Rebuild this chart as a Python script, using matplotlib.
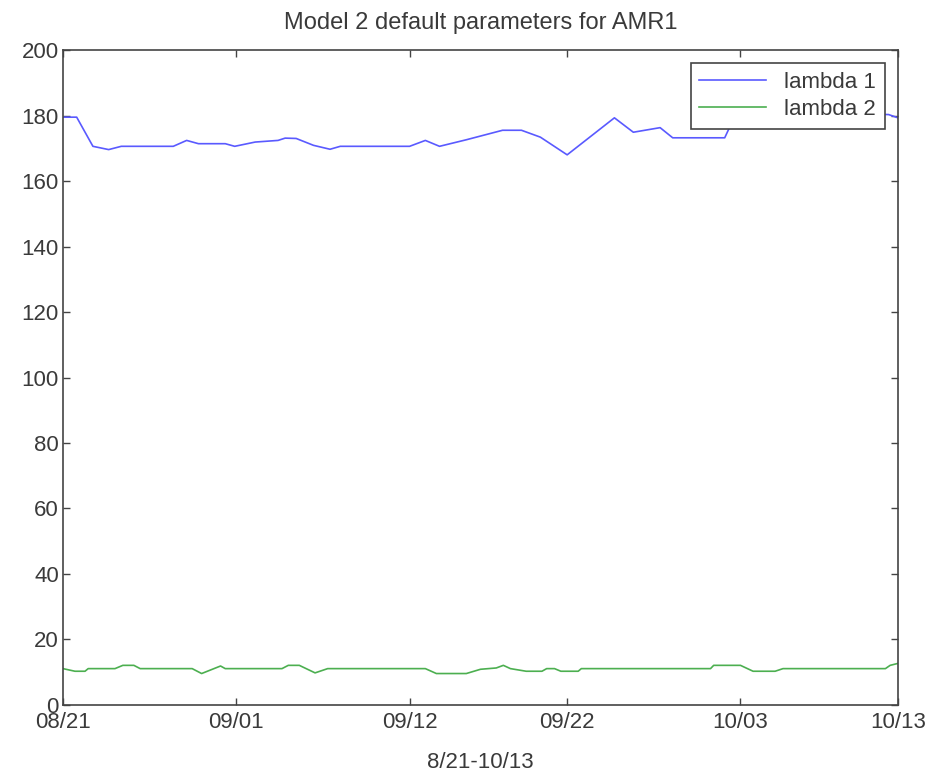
import matplotlib
matplotlib.use("Agg")
import matplotlib.pyplot as plt

# days since 08/21 and values
lam1_days = [0, 0.87, 1.9, 2.9, 3.7, 7.0, 7.85, 8.6, 10.3, 10.9, 12.2, 13.65, 14.1,
             14.8, 15.9, 16.95, 17.6, 22.0, 23.0, 23.9, 25.6, 27.9, 29.1, 30.3, 32.0,
             35.0, 36.2, 37.9, 38.7, 42.0, 42.3, 43.5, 47.0, 50.0, 52.4, 53.0]
lam1_vals = [179.5, 179.5, 170.6, 169.6, 170.6, 170.6, 172.4, 171.4, 171.4, 170.6,
             171.9, 172.4, 173.1, 173.0, 170.9, 169.7, 170.6, 170.6, 172.4, 170.6,
             172.6, 175.5, 175.5, 173.4, 168.0, 179.3, 174.9, 176.3, 173.2, 173.2,
             176.3, 180.0, 180.5, 180.5, 180.3, 179.3]

lam2_days = [0, 0.76, 1.4, 1.6, 3.3, 3.8, 4.5, 4.9, 8.2, 8.8, 10.0, 10.3, 13.9, 14.3,
             15.0, 16.0, 16.8, 23.0, 23.7, 25.6, 26.5, 27.5, 27.95, 28.4, 29.4, 30.4,
             30.7, 31.2, 31.6, 32.7, 32.9, 41.1, 41.3, 43.0, 43.8, 45.2, 45.7, 52.2,
             52.5, 53.0]
lam2_vals = [11.1, 10.3, 10.3, 11.1, 11.1, 12.1, 12.1, 11.1, 11.1, 9.6, 11.9, 11.1,
             11.1, 12.1, 12.1, 9.8, 11.1, 11.1, 9.6, 9.6, 10.9, 11.3, 12.1, 11.1,
             10.3, 10.3, 11.1, 11.1, 10.3, 10.3, 11.1, 11.1, 12.1, 12.1, 10.3, 10.3,
             11.1, 11.1, 12.1, 12.7]

tick_days = [0, 11, 22, 32, 43, 53]
tick_labels = ["08/21", "09/01", "09/12", "09/22", "10/03", "10/13"]

plt.rcParams["font.family"] = ["Liberation Sans", "DejaVu Sans"]
txt = "#3a3a3a"
fs = 16

fig = plt.figure(figsize=(9.33, 7.77), dpi=100)
ax = fig.add_axes([0.0675, 0.0927, 0.895, 0.8429])

ax.plot(lam1_days, lam1_vals, color="#5a5aff", lw=1.2, label="lambda 1")
ax.plot(lam2_days, lam2_vals, color="#4caf50", lw=1.2, label="lambda 2")

ax.set_xlim(0, 53)
ax.set_ylim(0, 200)
ax.set_xticks(tick_days)
ax.set_xticklabels(tick_labels)
ax.set_yticks(range(0, 201, 20))
ax.tick_params(direction="in", top=True, right=True, length=5, width=1,
               colors="#444444", labelcolor=txt, labelsize=fs, pad=3)
ax.tick_params(axis="x", pad=5)
for s in ax.spines.values():
    s.set_color("#444444")
    s.set_linewidth(1.2)

ax.set_title("Model 2 default parameters for AMR1", fontsize=fs + 1, color=txt, pad=15)
ax.set_xlabel("8/21-10/13", fontsize=fs, color=txt, labelpad=14)

leg = ax.legend(loc="upper right", fontsize=fs, fancybox=False, framealpha=1,
                borderaxespad=0.6, handlelength=3.0, handletextpad=0.8,
                labelspacing=0.25, borderpad=0.4)
leg.get_frame().set_edgecolor("#444444")
leg.get_frame().set_linewidth(1.2)
for t in leg.get_texts():
    t.set_color(txt)

fig.savefig("out.png", dpi=100)
